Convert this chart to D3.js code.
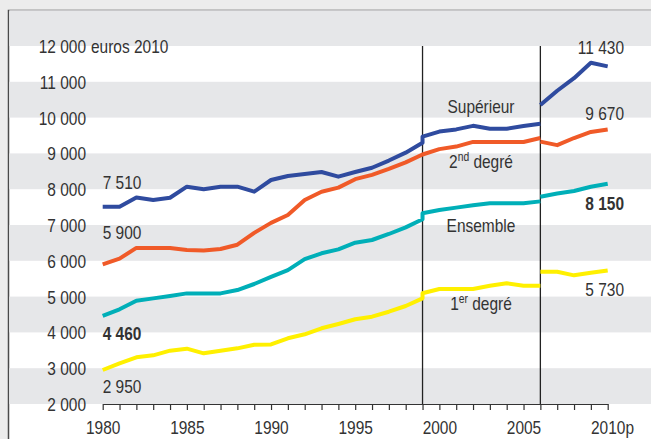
<!DOCTYPE html>
<html><head><meta charset="utf-8">
<script src="https://cdn.jsdelivr.net/npm/d3@7"></script>
<style>
html,body{margin:0;padding:0;background:#ececec;}
svg{display:block;}
text{font-family:"Liberation Sans",Arial,sans-serif;fill:#333;}
</style></head><body>
<svg id="c" width="651" height="439"></svg>
<script>
// ---- data ----
const years1 = d3.range(1980, 2000);      // 1980-1999
const years2 = d3.range(1999, 2007);      // 1999-2006
const years3 = d3.range(2006, 2011);      // 2006-2010
const xTickLabels = ["1980","1985","1990","1995","2000","2005","2010p"];
const yTickValues = [2000,3000,4000,5000,6000,7000,8000,9000,10000,11000,12000];
const yTickLabels = ["2 000","3 000","4 000","5 000","6 000","7 000","8 000","9 000","10 000","11 000","12 000"];
const yUnit = "euros 2010";
const breakYears = [1999, 2006];

const superieur1 = [7510,7510,7770,7700,7760,8070,8000,8070,8070,7930,8257,8370,8425,8480,8350,8480,8600,8800,9020,9300];
const superieur2 = [9470,9610,9670,9770,9690,9690,9765,9830];
const superieur3 = [10350,10750,11100,11530,11430];

const second1 = [5900,6060,6360,6360,6360,6300,6290,6330,6450,6780,7060,7280,7700,7930,8045,8280,8400,8565,8750,8970];
const second2 = [8970,9120,9190,9320,9320,9320,9320,9430];
const second3 = [9330,9230,9430,9600,9670];

const ensemble1 = [4460,4645,4886,4950,5017,5090,5090,5090,5184,5352,5550,5740,6045,6210,6320,6506,6581,6749,6935,7160];
const ensemble2 = [7330,7420,7485,7550,7606,7606,7606,7660];
const ensemble3 = [7790,7880,7950,8070,8150];

const premier1 = [2950,3136,3304,3360,3490,3546,3416,3490,3555,3657,3665,3835,3947,4115,4235,4366,4439,4578,4737,4952];
const premier2 = [5092,5212,5212,5212,5304,5371,5304,5304];
const premier3 = [5696,5696,5594,5668,5730];

const seriesNames = ["Supérieur","2nd degré","Ensemble","1er degré"];
const startLabels = ["7 510","5 900","4 460","2 950"];
const endLabels = ["11 430","9 670","8 150","5 730"];

// ---- chart ----
const svg = d3.select("#c");
const W = 651, H = 439;
const SX = 0.86; // condensed look
const FS = 18;
const x = d3.scaleLinear().domain([1980, 2010]).range([102.7, 607.7]);
const y = d3.scaleLinear().domain([2000, 13000]).range([404, 10.2]);

function txt(g, px, py, str, anchor, bold){
  return g.append("text")
    .attr("transform", `translate(${px},${py}) scale(${SX},1)`)
    .attr("text-anchor", anchor || "start")
    .attr("font-size", FS)
    .attr("font-weight", bold ? "bold" : "normal")
    .text(str);
}

const series = [
  {name: seriesNames[0], color:"#2f4b9f", a:superieur1, b:superieur2, c:superieur3, start:startLabels[0], end:endLabels[0], bold:false},
  {name: seriesNames[1], color:"#f05a28", a:second1, b:second2, c:second3, start:startLabels[1], end:endLabels[1], bold:false},
  {name: seriesNames[2], color:"#00afb8", a:ensemble1, b:ensemble2, c:ensemble3, start:startLabels[2], end:endLabels[2], bold:true},
  {name: seriesNames[3], color:"#fff000", a:premier1, b:premier2, c:premier3, start:startLabels[3], end:endLabels[3], bold:false}
];

// frame background
svg.append("rect").attr("x",8.5).attr("y",10.5).attr("width",W).attr("height",H)
  .attr("fill","#fff").attr("stroke","#4a4a4a").attr("stroke-width",1.5);

// bands
const bandStarts = [2000,4000,6000,8000,10000,12000];
svg.append("g").selectAll("rect").data(bandStarts).join("rect")
  .attr("x",9.25).attr("width",W)
  .attr("y",d=>y(d+1000)).attr("height",d=>y(d)-y(d+1000))
  .attr("fill","#e6e7e9");

// y labels
const yl = svg.append("g");
yTickValues.forEach((v,i)=>txt(yl, 86, y(v)+7, yTickLabels[i], "end"));
txt(yl, 91, y(12000)+7, yUnit, "start");

// vertical break lines
svg.append("g").selectAll("line").data(breakYears).join("line")
  .attr("x1",d=>x(d)).attr("x2",d=>x(d))
  .attr("y1",y(12000)).attr("y2",y(2000))
  .attr("stroke","#222").attr("stroke-width",1.3);

// x axis
const allYears = d3.range(1980, 2011);
const xAxis = d3.axisBottom(x).tickValues(allYears).tickSize(6).tickSizeOuter(0)
  .tickFormat(d => d % 5 === 0 ? xTickLabels[(d-1980)/5] : "");
const gx = svg.append("g").attr("transform",`translate(0,${y(2000)})`).call(xAxis);
gx.select(".domain").attr("stroke","#333").attr("stroke-width",1.2);
gx.selectAll(".tick line").attr("stroke","#333").attr("stroke-width",1.2);
gx.selectAll(".tick text").attr("y",30.5).attr("dy",null)
  .attr("font-size",FS).attr("fill","#333")
  .attr("transform",`scale(${SX},1)`)
  .style("font-family",'"Liberation Sans",Arial,sans-serif');
gx.selectAll(".tick text").filter(d=>d===2010).each(function(){
  const t = d3.select(this);
  t.text("2010");
  const w = this.getComputedTextLength();
  t.attr("text-anchor","start").attr("x",-w/2).text("2010p");
});

// lines
const line = d3.line().x(d=>x(d[0])).y(d=>y(d[1]));
const lg = svg.append("g").attr("fill","none").attr("stroke-width",4).attr("stroke-linejoin","round");
series.forEach(s=>{
  const p1 = years1.map((yr,i)=>[yr,s.a[i]]).concat(years2.map((yr,i)=>[yr,s.b[i]]));
  const p2 = years3.map((yr,i)=>[yr,s.c[i]]);
  lg.append("path").datum(p1).attr("d",line).attr("stroke",s.color);
  lg.append("path").datum(p2).attr("d",line).attr("stroke",s.color);
});

// start labels
const startOff = [-18, -25, 24, 23];
const lab = svg.append("g");
series.forEach((s,i)=>txt(lab, x(1980), y(s.a[0])+startOff[i], s.start, "start", s.bold));
// end labels
const endOff = [-12, -9, 26, 26];
series.forEach((s,i)=>txt(lab, 624, y(s.c[4])+endOff[i], s.end, "end", s.bold));

// series name labels
const nameX = 481;
const nameY = [113.3, 167.5, 231.7, 310];
const nl = svg.append("g");
txt(nl, nameX, nameY[0], seriesNames[0], "middle");
const t2 = txt(nl, nameX, nameY[1], "", "middle");
t2.append("tspan").text("2");
t2.append("tspan").attr("font-size",12).attr("dy",-7).text("nd");
t2.append("tspan").attr("dy",7).text(" degré");
txt(nl, nameX, nameY[2], seriesNames[2], "middle");
const t4 = txt(nl, nameX, nameY[3], "", "middle");
t4.append("tspan").text("1");
t4.append("tspan").attr("font-size",12).attr("dy",-7).text("er");
t4.append("tspan").attr("dy",7).text(" degré");
</script>
</body></html>
